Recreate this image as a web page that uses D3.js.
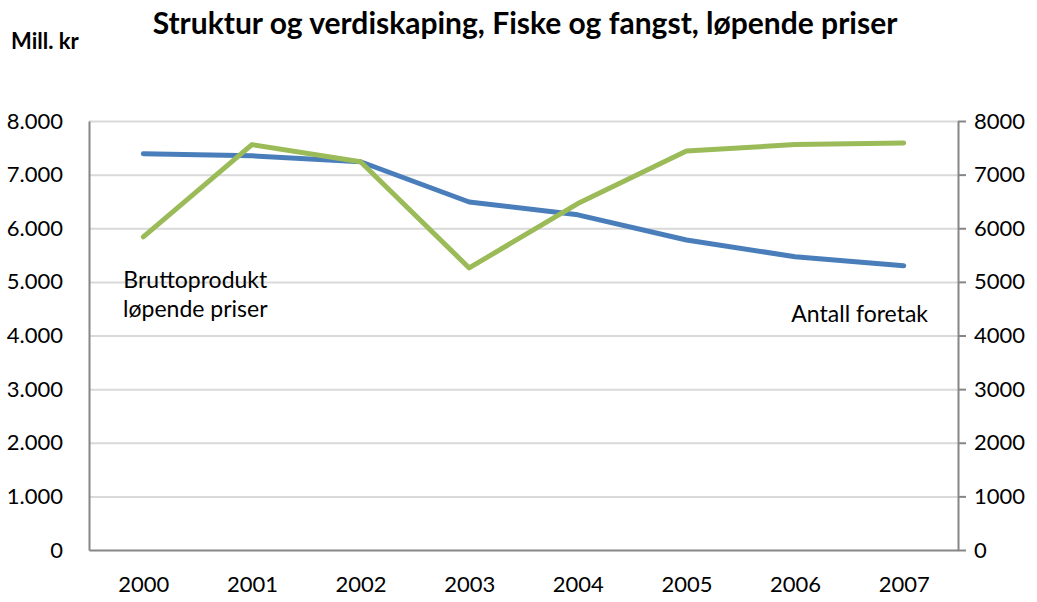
<!DOCTYPE html>
<html>
<head>
<meta charset="utf-8">
<script src="https://cdn.jsdelivr.net/npm/d3@7"></script>
<style>
  body { margin: 0; background: #fff; }
  svg text { font-family: Lato, "Open Sans", sans-serif; fill: #000; }
  .axis path { stroke: #868686; stroke-width: 2; }
  .axis line { stroke: #868686; stroke-width: 2; }
  .grid line { stroke: #d9d9d9; stroke-width: 2; }
  .grid path { display: none; }
  .line { fill: none; stroke-width: 5; stroke-linejoin: round; stroke-linecap: round; }
</style>
</head>
<body>
<svg width="1037" height="602"></svg>
<script>
var years = ["2000", "2001", "2002", "2003", "2004", "2005", "2006", "2007"],
    bruttoprodukt = [5840, 7560, 7240, 5260, 6460, 7440, 7560, 7590],
    foretak = [7390, 7350, 7240, 6490, 6250, 5780, 5470, 5300],
    leftTicks = [0, 1000, 2000, 3000, 4000, 5000, 6000, 7000, 8000],
    rightTicks = [0, 1000, 2000, 3000, 4000, 5000, 6000, 7000, 8000];

var svg = d3.select("svg"),
    margin = {top: 121, right: 79, bottom: 52, left: 89},
    width = +svg.attr("width") - margin.left - margin.right,
    height = +svg.attr("height") - margin.top - margin.bottom,
    g = svg.append("g").attr("transform", "translate(" + margin.left + "," + margin.top + ")");

var x = d3.scalePoint()
    .domain(years)
    .range([0, width])
    .padding(0.5);

var yL = d3.scaleLinear()
    .domain([0, 8000])
    .range([height, 0]);

var yR = d3.scaleLinear()
    .domain([0, 8000])
    .range([height, 0]);

var fmtL = function(d) { return d === 0 ? "0" : d3.format(",")(d).replace(",", "."); };

// gridlines
g.append("g")
    .attr("class", "grid")
    .call(d3.axisLeft(yL).tickValues(leftTicks.slice(1)).tickSize(-width).tickFormat(""));

// left axis
var axL = g.append("g")
    .attr("class", "axis")
    .call(d3.axisLeft(yL).tickValues(leftTicks).tickSize(0).tickPadding(26).tickFormat(fmtL));
axL.selectAll("text").style("font-size", "22px");

// right axis
var axR = g.append("g")
    .attr("class", "axis")
    .attr("transform", "translate(" + width + ",0)")
    .call(d3.axisRight(yR).tickValues(rightTicks).tickSize(8).tickSizeOuter(0).tickPadding(8).tickFormat(d3.format("d")));
axR.selectAll("text").style("font-size", "22px");

// bottom axis
var axB = g.append("g")
    .attr("class", "axis")
    .attr("transform", "translate(0," + height + ")")
    .call(d3.axisBottom(x).tickSize(0).tickSizeOuter(0).tickPadding(26));
axB.selectAll("text").style("font-size", "22px");

var line = function(y) {
  return d3.line()
      .x(function(d, i) { return x(years[i]); })
      .y(function(d) { return y(d); });
};

g.append("path")
    .datum(foretak)
    .attr("class", "line")
    .attr("stroke", "#4a7ebb")
    .attr("d", line(yR));

g.append("path")
    .datum(bruttoprodukt)
    .attr("class", "line")
    .attr("stroke", "#9bbb59")
    .attr("d", line(yL));

// series labels
g.append("text")
    .attr("x", x("2000") + 52)
    .attr("y", yL(5000) + 6)
    .attr("text-anchor", "middle")
    .style("font-size", "23px")
    .text("Bruttoprodukt");
g.append("text")
    .attr("x", x("2000") + 52)
    .attr("y", yL(5000) + 35)
    .attr("text-anchor", "middle")
    .style("font-size", "23px")
    .text("løpende priser");
g.append("text")
    .attr("x", x("2007") - 44)
    .attr("y", yR(4000) - 14)
    .attr("text-anchor", "middle")
    .style("font-size", "23px")
    .text("Antall foretak");

// title
svg.append("text")
    .attr("x", 525)
    .attr("y", 34)
    .attr("text-anchor", "middle")
    .style("font-size", "30px")
    .style("font-weight", "bold")
    .text("Struktur og verdiskaping, Fiske og fangst, løpende priser");

svg.append("text")
    .attr("x", 11)
    .attr("y", 49)
    .style("font-size", "22px")
    .style("font-weight", "bold")
    .text("Mill. kr");
</script>
</body>
</html>
